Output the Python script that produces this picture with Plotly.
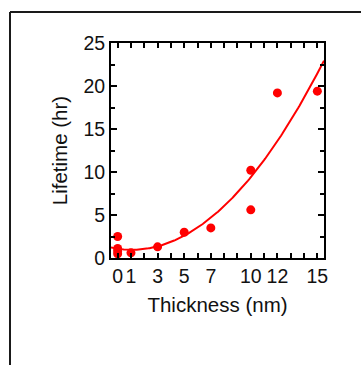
import numpy as np
import plotly.graph_objects as go

# Data
thickness_nm = [0, 0, 0, 0, 1, 3, 5, 7, 10, 10, 12, 15]
lifetime_hr = [2.5, 1.1, 0.8, 0.5, 0.6, 1.3, 3.0, 3.5, 10.2, 5.6, 19.2, 19.4]
x_tick_labels = ["0", "1", "3", "5", "7", "10", "12", "15"]
x_tick_label_vals = [0, 1, 3, 5, 7, 10, 12, 15]
y_tick_vals = [0, 5, 10, 15, 20, 25]

# quadratic fit of the data
coef = np.polyfit(thickness_nm, lifetime_hr, 2)
xfit = np.linspace(-0.5, 15.5, 200)
yfit = np.polyval(coef, xfit)

RED = "#ff0000"
W, H = 361, 365
L, R, T, B = 111, 324, 43, 258

fig = go.Figure()
fig.add_trace(go.Scatter(x=xfit, y=yfit, mode="lines",
                         line=dict(color=RED, width=2), hoverinfo="skip"))
fig.add_trace(go.Scatter(x=thickness_nm, y=lifetime_hr, mode="markers",
                         marker=dict(color=RED, size=9), cliponaxis=False))

tickvals = list(range(0, 16))
ticktext = [str(v) if v in x_tick_label_vals else "" for v in tickvals]

FAM = "Liberation Sans, Arial, sans-serif"
TXT = "#111111"

fig.update_layout(
    width=W, height=H,
    margin=dict(l=L, r=W - R, t=T, b=H - B, pad=0),
    paper_bgcolor="white", plot_bgcolor="white",
    showlegend=False,
    font=dict(family=FAM, color=TXT),
    xaxis=dict(range=[-0.5, 15.5], tickvals=tickvals, ticktext=ticktext,
               ticks="inside", ticklen=5, tickwidth=1.5, tickcolor="black",
               showline=True, linecolor="black", linewidth=2, mirror="ticks",
               showgrid=False, zeroline=False,
               tickfont=dict(size=19.5, family=FAM, color=TXT),
               title=dict(text="Thickness (nm)", font=dict(size=20.5, family=FAM, color=TXT),
                          standoff=11)),
    yaxis=dict(range=[0, 25], tickvals=y_tick_vals,
               ticks="inside", ticklen=6, tickwidth=1.5, tickcolor="black",
               minor=dict(tickvals=[2.5, 7.5, 12.5, 17.5, 22.5], ticks="inside",
                          ticklen=4, tickwidth=1.5, tickcolor="black"),
               showline=True, linecolor="black", linewidth=2, mirror="ticks",
               showgrid=False, zeroline=False,
               tickfont=dict(size=19.5, family=FAM, color=TXT),
               title=dict(text="Lifetime (hr)", font=dict(size=20.5, family=FAM, color=TXT),
                          standoff=10)),
)

# outer frame (left and top edges visible)
px0 = (10 - L) / (R - L)
py0 = (B - 12) / (B - T)
fig.add_shape(type="line", xref="paper", yref="paper", x0=px0, x1=px0,
              y0=py0, y1=-2, line=dict(color="#1a1a1a", width=2))
fig.add_shape(type="line", xref="paper", yref="paper", x0=px0, x1=2,
              y0=py0, y1=py0, line=dict(color="#1a1a1a", width=2))

fig.write_html("out.html", config={"displayModeBar": False},
               post_script="document.body.style.margin='0';document.body.style.overflow='hidden';")
